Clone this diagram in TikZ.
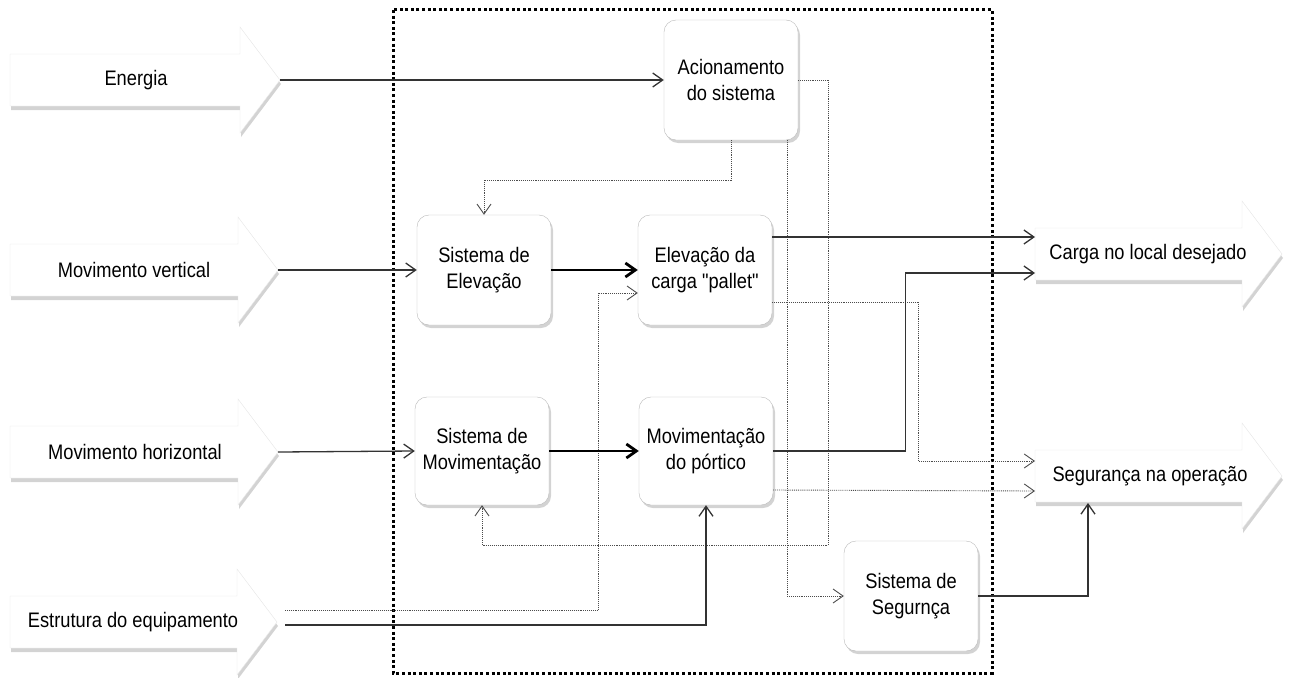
\documentclass[tikz,border=0pt]{standalone}
\usepackage{fontspec}
\setmainfont{Liberation Sans}[FakeStretch=0.87, Ligatures=TeXOff]
\usetikzlibrary{shadows}
\usetikzlibrary{arrows.meta}

% block arrow: name, left x, tip x, centre y, text x, text
\newcommand{\blocoseta}[6]{%
    \path[seta] (#2,#4-26) -- (#3-40,#4-26) -- (#3-40,#4-53) -- (#3,#4)
        -- (#3-40,#4+53) -- (#3-40,#4+26) -- (#2,#4+26) -- cycle;
    \node[rotulo] (#1) at (#5,#4) {#6};
    \coordinate (#1-tip) at (#3,#4);
    \coordinate (#1-w) at (#2,#4);
}

\begin{document}
\begin{tikzpicture}[x=1pt, y=-1pt,
    rotulo/.style={font=\fontsize{21}{26}\selectfont, inner sep=0pt},
    bloco/.style={draw=gray!55, fill=white, rounded corners=12pt,
        minimum width=134pt, align=center, font=\fontsize{21}{26}\selectfont,
        drop shadow={shadow xshift=2pt, shadow yshift=-3pt, opacity=.35}},
    seta/.style={draw=gray!20, fill=white,
        drop shadow={shadow xshift=1pt, shadow yshift=-4pt, opacity=.35}},
    fio/.style={-{Straight Barb[length=10pt,width=14pt]}, line width=1.3pt, draw=black!80},
    grosso/.style={-{Straight Barb[length=10pt,width=14pt]}, line width=2.8pt},
    pont/.style={-{Straight Barb[length=10pt,width=14pt]}, densely dotted, line width=0.9pt, draw=black!70}]

    \useasboundingbox (0,0) rectangle (1289,677);

    % entradas e saidas
    \blocoseta{en}{10}{280}{80}{136}{Energia}
    \blocoseta{mv}{10}{278}{270}{134}{Movimento vertical}
    \blocoseta{mh}{10}{278}{452}{135}{Movimento horizontal}
    \blocoseta{ee}{10}{277}{622}{133}{Estrutura do equipamento}
    \blocoseta{cg}{1035}{1282}{254}{1148}{Carga no local desejado}
    \blocoseta{sg}{1035}{1282}{476}{1150}{Segurança na operação}

    % fronteira do sistema
    \draw[line width=3pt, dash pattern=on 3pt off 2.6pt] (393,10) rectangle (992,673);

    \node[bloco, minimum height=120pt] (ac) at (731,80) {Acionamento\\do sistema};
    \node[bloco, minimum height=110pt] (se) at (484,270) {Sistema de\\Elevação};
    \node[bloco, minimum height=110pt] (ec) at (705,270) {Elevação da\\carga "pallet"};
    \node[bloco, minimum height=108pt] (sm) at (482,451) {Sistema de\\Movimentação};
    \node[bloco, minimum height=108pt] (mp) at (706,451) {Movimentação\\do pórtico};
    \node[bloco, minimum height=110pt] (ss) at (911,596) {Sistema de\\Segurnça};

    \draw[pont] (ac.south) -- ++(0,40) -| (se.north);
    \draw[pont] (ac.east) -- ++(30,0) -- ++(0,465) -| (sm.south);
    \draw[pont] ([xshift=56pt]ac.south) |- (ss.west);
    \draw[pont] ([yshift=-32pt]ec.east) -- ++(146,0) |- ([yshift=15pt]sg-w);
    \draw[pont] ([yshift=-39pt]mp.east) -- ([yshift=-15pt]sg-w);
    \draw[pont] ([xshift=8pt,yshift=12pt]ee-tip) -- ++(313,0) |- ([yshift=-23pt]ec.west);

    \draw[fio] (en-tip) -- (ac.west);
    \draw[fio] (mv-tip) -- (se.west);
    \draw[fio] (mh-tip) -- (sm.west);
    \draw[fio] ([xshift=8pt,yshift=-3pt]ee-tip) -| (mp.south);
    \draw[fio] ([yshift=33pt]ec.east) -- ([yshift=17pt]cg-w);
    \draw[fio] (mp.east) -- ++(132,0) |- ([yshift=-19pt]cg-w);
    \draw[fio] (ss.east) -| ([xshift=53pt,yshift=-27pt]sg-w);

    \draw[grosso] (se.east) -- (ec.west);
    \draw[grosso] (sm.east) -- (mp.west);
\end{tikzpicture}
\end{document}
